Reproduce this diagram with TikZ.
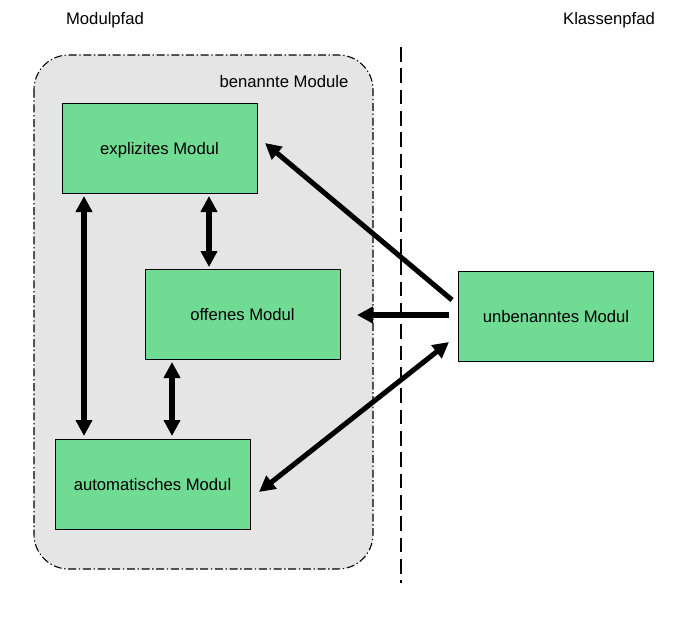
\documentclass[tikz,border=0pt]{standalone}
\usepackage{fontspec}
\setmainfont{Liberation Sans}
\usetikzlibrary{arrows.meta}
\definecolor{modgreen}{RGB}{112,219,147}
\definecolor{regiongrey}{RGB}{229,229,229}
\begin{document}
\begin{tikzpicture}[x=0.75pt,y=-0.75pt,
  font=\fontsize{12.5}{15}\selectfont,
  modbox/.style={draw=black,line width=0.75pt,fill=modgreen,minimum width=146.25pt,minimum height=67.5pt,inner sep=0pt,text depth=0pt,text height=9pt},
  bigarrow/.style={line width=3.8pt,{Triangle[length=12pt,width=12pt]}-{Triangle[length=12pt,width=12pt]}},
  onearrow/.style={line width=3.8pt,-{Triangle[length=12pt,width=12pt]}}]
\useasboundingbox (0,0) rectangle (686,621);
% region
\draw[fill=regiongrey,line width=0.8pt,dash pattern=on 6pt off 2pt on 1pt off 2pt,rounded corners=26pt] (34,55) rectangle (373,569);
\draw[line width=0.8pt,dash pattern=on 11pt off 5pt] (401,47) -- (401,583);
\node (modulpfad) at (105,20) {Modulpfad};
\node (klassenpfad) at (609,20) {Klassenpfad};
\node (benannt) at (284,82) {benannte Module};
% boxes
\node[modbox] (expl) at (159.5,148) {explizites Modul};
\node[modbox] (offen) at (242.5,314) {offenes Modul};
\node[modbox] (auto) at (152.5,484) {automatisches Modul};
\node[modbox] (unb) at (556,316) {unbenanntes Modul};
% coordinates
\coordinate (e1) at (84,196);
\coordinate (a1) at (84,436);
\coordinate (e2) at (209,196);
\coordinate (o2) at (209,267);
\coordinate (o3) at (172,362);
\coordinate (a3) at (172,436);
\coordinate (u1) at (452,300);
\coordinate (e4) at (265,143);
\coordinate (u2) at (449,315);
\coordinate (o5) at (357,315);
\coordinate (u3) at (449,342);
\coordinate (a6) at (259,492);
\draw[bigarrow] (e1) -- (a1);
\draw[bigarrow] (e2) -- (o2);
\draw[bigarrow] (o3) -- (a3);
\draw[onearrow] (u1) -- (e4);
\draw[onearrow] (u2) -- (o5);
\draw[bigarrow] (u3) -- (a6);
\end{tikzpicture}
\end{document}
